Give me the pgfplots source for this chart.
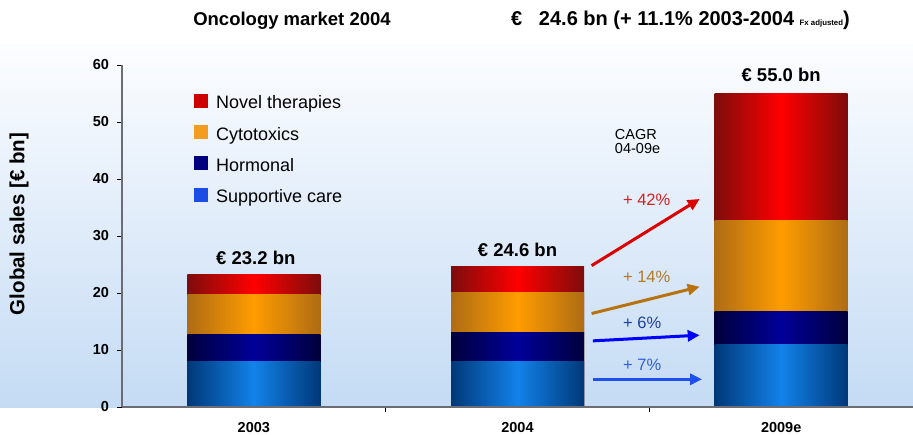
\documentclass[border=0pt]{standalone}
\usepackage{pgfplots}
\pgfplotsset{compat=1.18}
\usepackage{fontspec}
\setmainfont{Liberation Sans}
\usetikzlibrary{arrows.meta}
\definecolor{novE}{HTML}{7E0C0C}
\definecolor{novM}{HTML}{FF0000}
\definecolor{cytE}{HTML}{AE6C14}
\definecolor{cytM}{HTML}{FF9C00}
\definecolor{horE}{HTML}{00003C}
\definecolor{horM}{HTML}{000099}
\definecolor{supE}{HTML}{003878}
\definecolor{supM}{HTML}{1282EA}
\definecolor{lgNov}{HTML}{CC0000}
\definecolor{lgCyt}{HTML}{F39C1F}
\definecolor{lgHor}{HTML}{00007F}
\definecolor{lgSup}{HTML}{1B4DE6}
\definecolor{bgTop}{HTML}{FCFDFF}
\definecolor{bgBot}{HTML}{C4DBF4}
\definecolor{axgray}{HTML}{6C6C74}
\definecolor{arRed}{HTML}{DD0000}
\definecolor{arOr}{HTML}{B8720F}
\definecolor{arHor}{HTML}{0000FF}
\definecolor{arSup}{HTML}{1E50F0}
\definecolor{pRed}{HTML}{D42020}
\definecolor{pOr}{HTML}{B07A28}
\definecolor{pHor}{HTML}{1E3FA0}
\definecolor{pSup}{HTML}{3060D8}
\newcommand{\fs}[1]{\fontsize{#1}{#1}\selectfont}
\pgfplotsset{
  seg/.style 2 args={ybar, bar shift=0pt, draw=none, left color=#1, right color=#1, middle color=#2, forget plot},
  nov/.style={seg={novE}{novM}},
  cyt/.style={seg={cytE}{cytM}},
  hor/.style={seg={horE}{horM}},
  sup/.style={seg={supE}{supM}},
  sq/.style={legend image code/.code={\fill[#1] (0pt,-3pt) rectangle (13pt,10pt);}},
}
\begin{document}
\begin{tikzpicture}
\shade[top color=bgTop, bottom color=bgBot] (-122pt,-1pt) rectangle (791pt,362pt);
\begin{axis}[
  at={(0,0)}, anchor=south west,
  scale only axis, width=791pt, height=342pt,
  xmin=-0.5, xmax=2.5, ymin=0, ymax=60,
  ybar, bar width=133pt, bar shift=0pt,
  axis on top,
  axis x line*=bottom, axis y line*=left,
  axis line style={draw=axgray, line width=1.4pt},
  tick align=outside, major tick length=5pt, minor tick length=5pt,
  ytick={0,10,...,60},
  ytick style={draw=black, line width=0.8pt},
  xtick={0,1,2}, xticklabels={2003,2004,2009e},
  minor xtick={0.5,1.5},
  every major x tick/.append style={draw=none},
  every minor x tick/.append style={draw=black, line width=0.8pt},
  /pgf/number format/assume math mode=true,
  ticklabel style={font=\bfseries\fs{14.5}},
  xticklabel style={yshift=-7pt},
  yticklabel style={xshift=-4.5pt},
  ylabel={Global sales [€ bn]},
  ylabel style={font=\bfseries\fs{20.5}, at={(axis description cs:-0.1302,0.535)}, anchor=center},
  legend style={at={(rel axis cs:0.091,0.915)}, anchor=north west, draw=none, fill=none,
    inner sep=0pt, row sep=12.9pt, column sep=8.5pt, font=\fs{18},
    nodes={inner sep=0pt, text height=12.5pt, text depth=3.5pt}},
  legend cell align=left,
]
% Each bar is drawn as cumulative tops (top of each stacked segment), back to front
% 2003: supportive 7.9, hormonal 4.9, cytotoxics 7.0, novel 3.4
\addplot[nov] coordinates {(0,23.2)};
\addplot[cyt] coordinates {(0,19.8)};
\addplot[hor] coordinates {(0,12.8)};
\addplot[sup] coordinates {(0,7.9)};
% 2004: supportive 7.9, hormonal 5.1, cytotoxics 7.0, novel 4.6
\addplot[nov] coordinates {(1,24.6)};
\addplot[cyt] coordinates {(1,20.0)};
\addplot[hor] coordinates {(1,13.0)};
\addplot[sup] coordinates {(1,7.9)};
% 2009e: supportive 10.9, hormonal 5.9, cytotoxics 16.0, novel 22.2
\addplot[nov] coordinates {(2,55.0)};
\addplot[cyt] coordinates {(2,32.8)};
\addplot[hor] coordinates {(2,16.8)};
\addplot[sup] coordinates {(2,10.9)};
\addlegendimage{sq=lgNov}
\addlegendentry{Novel therapies}
\addlegendimage{sq=lgCyt}
\addlegendentry{Cytotoxics}
\addlegendimage{sq=lgHor}
\addlegendentry{Hormonal}
\addlegendimage{sq=lgSup}
\addlegendentry{Supportive care}
% value labels
\node[anchor=base, font=\bfseries\fs{18.5}, yshift=10.5pt, xshift=2pt] at (axis cs:0,23.2) {€ 23.2 bn};
\node[anchor=base, font=\bfseries\fs{18.5}, yshift=10.5pt] at (axis cs:1,24.6) {€ 24.6 bn};
\node[anchor=base, font=\bfseries\fs{18.5}, yshift=12pt] at (axis cs:2,55.0) {€ 55.0 bn};
% CAGR
\node[anchor=north west, align=left, inner sep=0pt, font=\fs{14.5}] at (axis cs:1.369,48.8) {CAGR\\04-09e};
\draw[arRed, line width=3pt, -{Triangle[length=12pt,width=11pt]}] (axis cs:1.281,24.8) -- (axis cs:1.691,36.5);
\draw[arOr, line width=3pt, -{Triangle[length=12pt,width=11pt]}] (axis cs:1.281,16.4) -- (axis cs:1.691,21.1);
\draw[arHor, line width=3pt, -{Triangle[length=12pt,width=11pt]}] (axis cs:1.286,11.6) -- (axis cs:1.691,12.6);
\draw[arSup, line width=3pt, -{Triangle[length=12pt,width=11pt]}] (axis cs:1.286,4.86) -- (axis cs:1.70,4.86);
\node[pRed, font=\fs{16.5}] at (axis cs:1.490,36.3) {+ 42\%};
\node[pOr, font=\fs{16.5}] at (axis cs:1.490,22.9) {+ 14\%};
\node[pHor, font=\fs{16.5}] at (axis cs:1.473,14.8) {+ 6\%};
\node[pSup, font=\fs{16.5}] at (axis cs:1.473,7.4) {+ 7\%};
\end{axis}
\node[anchor=base, font=\bfseries\fs{18.5}] at (170pt,381pt) {Oncology market 2004};
\node[anchor=base west, inner sep=0pt, font=\bfseries\fs{20}] at (389pt,381pt) {€\ \ \ 24.6 bn (+ 11.1\% 2003-2004 {\fs{7.8}Fx adjusted})};
\pgfresetboundingbox
\path (-122pt,-28pt) rectangle (791pt,407pt);
\end{tikzpicture}
\end{document}
